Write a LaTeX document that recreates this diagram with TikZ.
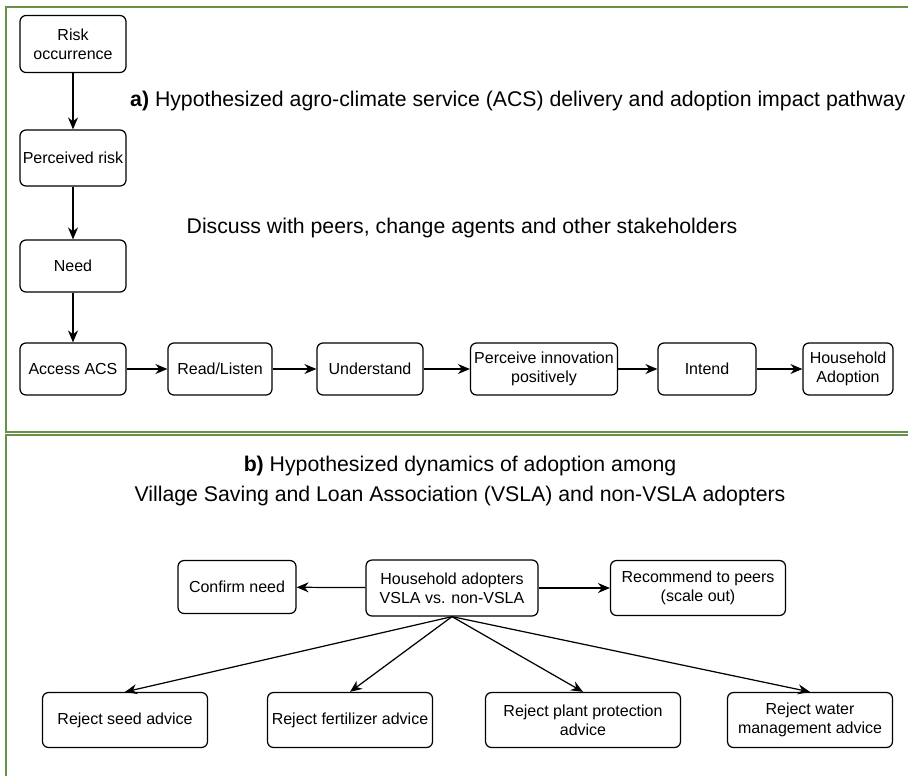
\documentclass[tikz,border=0pt]{standalone}
\usepackage{fontspec}
\setmainfont{Liberation Sans}
\usetikzlibrary{arrows.meta}
\definecolor{framegreen}{RGB}{104,146,72}

\begin{document}
\begin{tikzpicture}[x=0.02cm, y=-0.02cm,
    box/.style={draw, rounded corners=0.12cm, line width=0.7pt, align=center, inner sep=1pt, font=\fontsize{9.1}{10.8}\selectfont},
    arr/.style={-{Stealth[length=2.4mm, width=2mm]}, line width=0.7pt},
    ttl/.style={align=center, font=\fontsize{12.1}{17.6}\selectfont}]
  \clip (0,0) rectangle (908,775);
  % panel frames
  \draw[framegreen, line width=1.1pt] (930,7) -- (6,7) -- (6,432) -- (930,432);
  \draw[framegreen, line width=1.1pt] (930,435) -- (6,435) -- (6,800);
  % a) impact pathway
  \node[ttl, anchor=west] (ttla) at (124,101) {\textbf{a)} Hypothesized agro-climate service (ACS) delivery and adoption impact pathway};
  \node[ttl] (discuss) at (462,228) {Discuss with peers, change agents and other stakeholders};
  \node[box, minimum width=2.12cm, minimum height=1.14cm] (risk) at (73,44) {Risk\\occurrence};
  \node[box, minimum width=2.12cm, minimum height=1.12cm] (perc) at (73,158) {Perceived risk};
  \node[box, minimum width=2.12cm, minimum height=1.04cm] (need) at (73,266) {Need};
  \node[box, minimum width=2.12cm, minimum height=1.04cm] (access) at (73,369) {Access ACS};
  \node[box, minimum width=2.08cm, minimum height=1.04cm] (read) at (220,369) {Read/Listen};
  \node[box, minimum width=2.12cm, minimum height=1.04cm] (under) at (370,369) {Understand};
  \node[box, minimum width=2.94cm, minimum height=1.04cm] (percv) at (544,369) {Perceive innovation\\positively};
  \node[box, minimum width=1.96cm, minimum height=1.04cm] (intend) at (707,369) {Intend};
  \node[box, minimum width=1.80cm, minimum height=1.04cm] (hhadopt) at (848,369) {Household\\Adoption};
  \draw[arr] (risk) -- (perc);
  \draw[arr] (perc) -- (need);
  \draw[arr] (need) -- (access);
  \draw[arr] (access) -- (read);
  \draw[arr] (read) -- (under);
  \draw[arr] (under) -- (percv);
  \draw[arr] (percv) -- (intend);
  \draw[arr] (intend) -- (hhadopt);
  % b) adoption dynamics
  \node[ttl] (ttlb) at (460,481) {\textbf{b)} Hypothesized dynamics of adoption among\\Village Saving and Loan Association (VSLA) and non-VSLA adopters};
  \node[box, minimum width=2.36cm, minimum height=1.06cm] (confirm) at (237,587) {Confirm need};
  \node[box, minimum width=3.44cm, minimum height=1.12cm] (hh) at (452,588) {Household adopters\\VSLA vs. non-VSLA};
  \node[box, minimum width=3.50cm, minimum height=1.10cm] (recom) at (698,588) {Recommend to peers\\(scale out)};
  \node[box, minimum width=3.30cm, minimum height=1.10cm] (seed) at (125,720) {Reject seed advice};
  \node[box, minimum width=3.30cm, minimum height=1.10cm] (fert) at (350,720) {Reject fertilizer advice};
  \node[box, minimum width=3.90cm, minimum height=1.10cm] (plant) at (583,720) {Reject plant protection\\advice};
  \node[box, minimum width=3.30cm, minimum height=1.10cm] (water) at (810,720) {Reject water\\management advice};
  \draw[arr] (hh) -- (confirm);
  \draw[arr] (hh) -- (recom);
  \draw[arr] (hh.south) -- (seed.north);
  \draw[arr] (hh.south) -- (fert.north);
  \draw[arr] (hh.south) -- (plant.north);
  \draw[arr] (hh.south) -- (water.north);
\end{tikzpicture}
\end{document}
